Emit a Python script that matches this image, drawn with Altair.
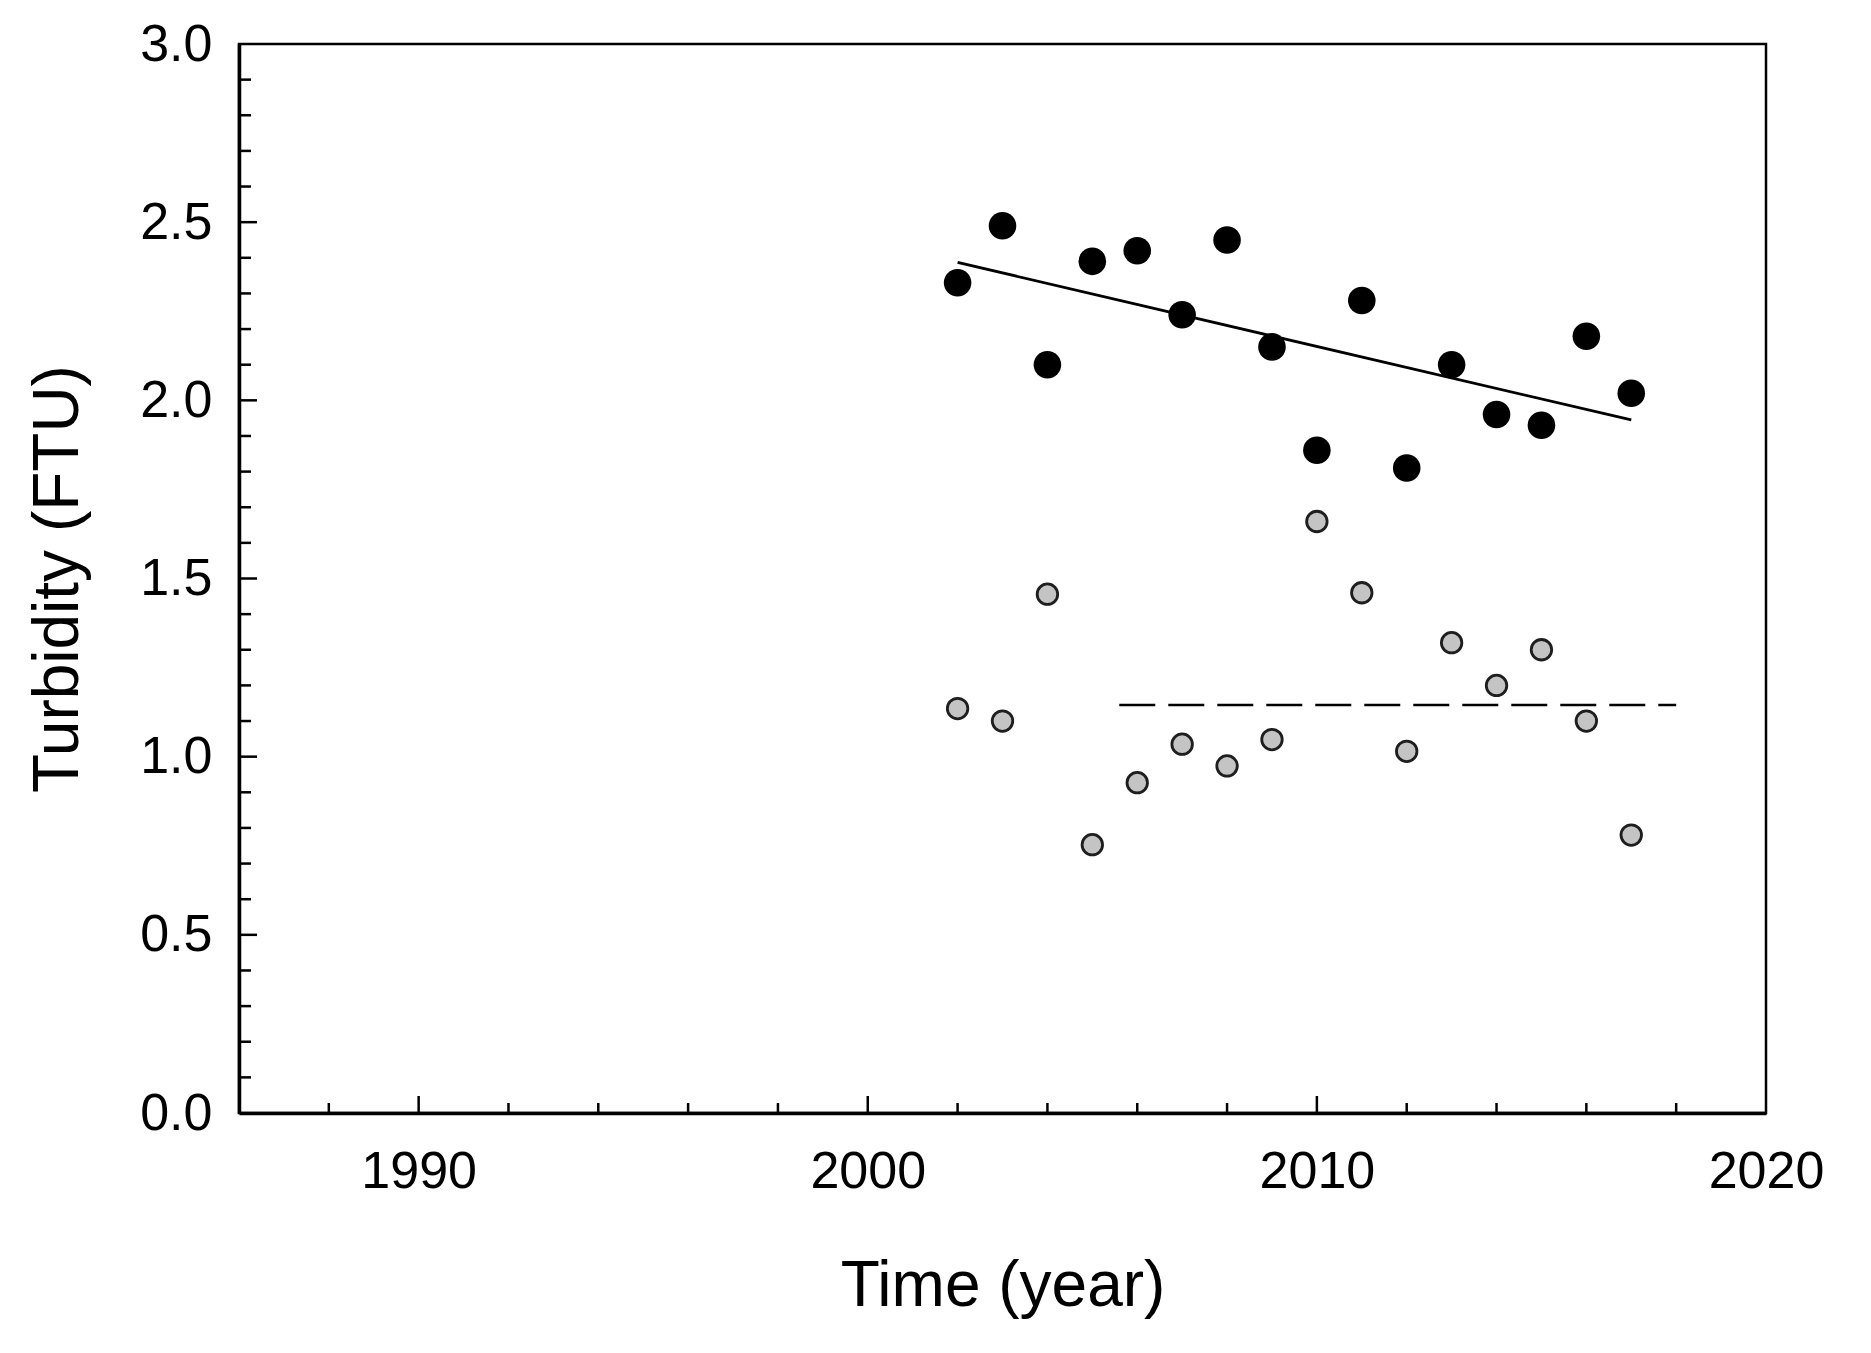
import altair as alt
import pandas as pd

# ---- data ----
years = list(range(2002, 2018))
turb_black = [2.33, 2.49, 2.10, 2.39, 2.42, 2.24, 2.45, 2.15, 1.86, 2.28, 1.81, 2.10, 1.96, 1.93, 2.18, 2.02]
turb_grey = [1.135, 1.10, 1.456, 0.753, 0.927, 1.035, 0.974, 1.048, 1.66, 1.46, 1.015, 1.32, 1.20, 1.30, 1.10, 0.78]

trend_years = [2002, 2017]
trend_vals = [2.387, 1.945]
mean_years = [2005.6, 2018.0]
mean_vals = [1.145, 1.145]

x_labels = [1990, 2000, 2010, 2020]
y_labels = [0.0, 0.5, 1.0, 1.5, 2.0, 2.5, 3.0]
x_major_in = [1990, 2000, 2010]
x_minor_in = [1988, 1992, 1994, 1996, 1998, 2002, 2004, 2006, 2008, 2012, 2014, 2016, 2018]
y_major_in = [0.5, 1.0, 1.5, 2.0, 2.5]
y_minor_in = [0.1, 0.2, 0.3, 0.4, 0.6, 0.7, 0.8, 0.9, 1.1, 1.2, 1.3, 1.4, 1.6, 1.7, 1.8, 1.9,
              2.1, 2.2, 2.3, 2.4, 2.6, 2.7, 2.8, 2.9]

W, H = 1527, 1069
FONT = "Liberation Sans"

pts = pd.DataFrame({"year": years, "black": turb_black, "grey": turb_grey})
trend = pd.DataFrame({"year": trend_years, "v": trend_vals})
mean = pd.DataFrame({"year": mean_years, "v": mean_vals})

xs = alt.Scale(domain=[1986, 2020], nice=False, zero=False)
ys = alt.Scale(domain=[0, 3], nice=False, zero=True)

x_axis = alt.Axis(
    values=x_labels, format="d", labelFontSize=52, labelFont=FONT, labelColor="black",
    labelPadding=74, labelBaseline="alphabetic", labelFlush=False, labelOverlap=False,
    ticks=False, tickSize=0, domainColor="black", domainWidth=3.5, grid=False,
    title="Time (year)", titleFont=FONT, titleFontSize=64, titleFontWeight="normal",
    titleColor="black", titleX=W / 2, titleY=192, titleBaseline="alphabetic", titleAlign="center",
)
y_axis = alt.Axis(
    values=y_labels, format=".1f", labelFontSize=52, labelFont=FONT, labelColor="black",
    labelPadding=27, labelAlign="right", labelBaseline="middle", labelFlush=False, labelOverlap=False,
    ticks=False, tickSize=0, domainColor="black", domainWidth=3.5, grid=False,
    title="Turbidity (FTU)", titleFont=FONT, titleFontSize=64, titleFontWeight="normal",
    titleColor="black", titleAngle=270, titleX=-162, titleY=H / 2, titleBaseline="alphabetic",
    titleAlign="center",
)

base_x = alt.X("year:Q", scale=xs, axis=x_axis)

trend_line = alt.Chart(trend).mark_line(color="black", strokeWidth=2.8).encode(
    x=base_x, y=alt.Y("v:Q", scale=ys, axis=y_axis)
)
mean_line = alt.Chart(mean).mark_line(color="black", strokeWidth=2.5, strokeDash=[36, 13]).encode(
    x=alt.X("year:Q", scale=xs), y=alt.Y("v:Q", scale=ys)
)
black_pts = alt.Chart(pts).mark_circle(color="black", size=760, opacity=1).encode(
    x=alt.X("year:Q", scale=xs), y=alt.Y("black:Q", scale=ys)
)
grey_pts = alt.Chart(pts).mark_circle(fill="#c4c4c4", stroke="#1e1e1e", strokeWidth=2.8,
                                       size=420, opacity=1).encode(
    x=alt.X("year:Q", scale=xs), y=alt.Y("grey:Q", scale=ys)
)

# inside ticks
xmaj = alt.Chart(pd.DataFrame({"t": x_major_in})).mark_rule(color="black", strokeWidth=2.5).encode(
    x=alt.X("t:Q", scale=xs), y=alt.value(H), y2=alt.value(H - 17)
)
xmin = alt.Chart(pd.DataFrame({"t": x_minor_in})).mark_rule(color="black", strokeWidth=2.5).encode(
    x=alt.X("t:Q", scale=xs), y=alt.value(H), y2=alt.value(H - 10)
)
ymaj = alt.Chart(pd.DataFrame({"t": y_major_in})).mark_rule(color="black", strokeWidth=2.5).encode(
    y=alt.Y("t:Q", scale=ys), x=alt.value(0), x2=alt.value(18)
)
ymin = alt.Chart(pd.DataFrame({"t": y_minor_in})).mark_rule(color="black", strokeWidth=2.5).encode(
    y=alt.Y("t:Q", scale=ys), x=alt.value(0), x2=alt.value(12)
)

chart = alt.layer(
    trend_line, mean_line, xmaj, xmin, ymaj, ymin, black_pts, grey_pts
).properties(
    width=W, height=H,
    autosize=alt.AutoSizeParams(type="none"),
    padding={"left": 231, "top": 36, "right": 90, "bottom": 230},
    background="white",
).configure_view(stroke="black", strokeWidth=2.5)

chart.save("out.html", embed_options={"renderer": "svg", "actions": False})
